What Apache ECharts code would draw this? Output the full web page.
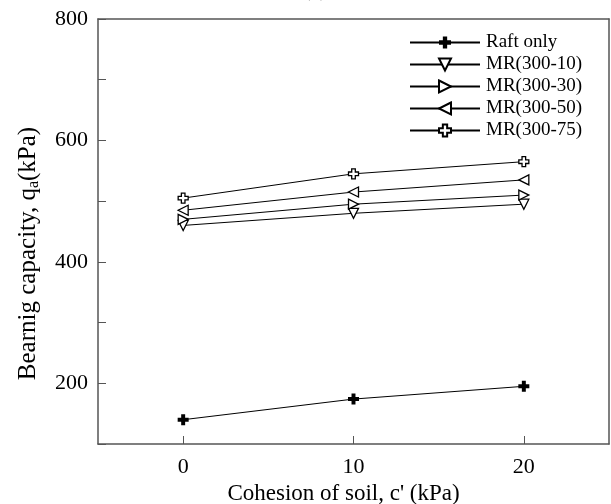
<!DOCTYPE html>
<html>
<head>
<meta charset="utf-8">
<script src="https://cdn.jsdelivr.net/npm/echarts@6/dist/echarts.min.js"></script>
<style>
  html, body { margin: 0; padding: 0; background: #fff; }
  #chart { width: 611px; height: 504px; }
</style>
</head>
<body>
<div id="chart"></div>
<script>
// Cohesion values (kPa) on the x axis
const cohesion = [0, 10, 20];
const xTicks = [0, 10, 20];
const yTicks = [200, 400, 600, 800];

// Bearing capacity (kPa) for each configuration
const raftOnly = [140, 174, 195];
const mr300_10 = [460, 480, 495];
const mr300_30 = [470, 495, 510];
const mr300_50 = [485, 515, 535];
const mr300_75 = [505, 545, 565];

const seriesNames = ['Raft only', 'MR(300-10)', 'MR(300-30)', 'MR(300-50)', 'MR(300-75)'];

const FONT = '"Liberation Serif", "Times New Roman", serif';
const AXIS_COLOR = '#555';

const PLUS = 'path://M3.2,0H6.8V3.2H10V6.8H6.8V10H3.2V6.8H0V3.2H3.2Z';
const TRI_DOWN = 'path://M0,0L10,0L5,9Z';
const TRI_RIGHT = 'path://M0,0L9,5L0,10Z';
const TRI_LEFT = 'path://M9,0L0,5L9,10Z';

function pairs(vals) {
  return cohesion.map((c, i) => [c, vals[i]]);
}

function makeSeries(name, vals, symbol, filled, size) {
  return {
    name: name,
    type: 'line',
    data: pairs(vals),
    symbol: symbol,
    symbolSize: size,
    showSymbol: true,
    lineStyle: { color: '#000', width: 1 },
    itemStyle: {
      color: filled ? '#000' : '#fff',
      borderColor: '#000',
      borderWidth: filled ? 0 : 1.3
    },
    emphasis: { disabled: true },
    animation: false,
    z: 3
  };
}

const chart = echarts.init(document.getElementById('chart'), null, { renderer: 'canvas' });

chart.setOption({
  backgroundColor: '#fff',
  animation: false,
  title: {
    text: '(a)',
    left: 298,
    top: -26,
    textStyle: { fontFamily: FONT, fontSize: 22, fontWeight: 'normal', color: '#000' }
  },
  legend: {
    orient: 'vertical',
    left: 404,
    top: 28,
    itemWidth: 70,
    itemHeight: 15,
    itemGap: 3,
    data: seriesNames,
    textStyle: { fontFamily: FONT, fontSize: 19, color: '#000', padding: [0, 0, 0, 1] },
    selectedMode: false
  },
  grid: { left: 98, right: 2, top: 19, bottom: 60, containLabel: false, outerBoundsMode: 'none' },
  xAxis: [{
    type: 'value',
    min: -5,
    max: 25,
    name: "Cohesion of soil, c' (kPa)",
    nameLocation: 'middle',
    nameGap: 38,
    nameTextStyle: { fontFamily: FONT, fontSize: 23, color: '#000', padding: [0, 20, 0, 0] },
    axisLine: { show: true, onZero: false, lineStyle: { color: AXIS_COLOR, width: 1.5 } },
    axisTick: { show: true, inside: true, length: 8, customValues: xTicks, lineStyle: { color: AXIS_COLOR, width: 1 } },
    axisLabel: { customValues: xTicks, margin: 12, fontFamily: FONT, fontSize: 22, color: '#000' },
    splitLine: { show: false }
  }, {
    type: 'value',
    position: 'top',
    min: -5,
    max: 25,
    axisLine: { show: true, onZero: false, lineStyle: { color: AXIS_COLOR, width: 1.5 } },
    axisTick: { show: false },
    axisLabel: { show: false },
    splitLine: { show: false }
  }],
  yAxis: [{
    type: 'value',
    min: 100,
    max: 800,
    interval: 100,
    name: 'Bearnig capacity, q{sub|a}(kPa)',
    nameLocation: 'middle',
    nameGap: 56,
    nameTextStyle: {
      fontFamily: FONT, fontSize: 25, color: '#000',
      padding: [0, 0, 0, -44],
      rich: { sub: { fontFamily: FONT, fontSize: 16, color: '#000', verticalAlign: 'bottom', padding: [11, 0, 0, 0] } }
    },
    axisLine: { show: true, onZero: false, lineStyle: { color: AXIS_COLOR, width: 1.5 } },
    axisTick: { show: true, inside: true, length: 8, lineStyle: { color: AXIS_COLOR, width: 1 } },
    axisLabel: {
      margin: 10,
      fontFamily: FONT, fontSize: 22, color: '#000',
      formatter: v => (yTicks.indexOf(v) >= 0 ? String(v) : '')
    },
    splitLine: { show: false }
  }, {
    type: 'value',
    position: 'right',
    min: 100,
    max: 800,
    axisLine: { show: true, onZero: false, lineStyle: { color: AXIS_COLOR, width: 1.5 } },
    axisTick: { show: false },
    axisLabel: { show: false },
    splitLine: { show: false }
  }],
  series: [
    makeSeries(seriesNames[0], raftOnly, PLUS, true, 11),
    makeSeries(seriesNames[1], mr300_10, TRI_DOWN, false, 10),
    makeSeries(seriesNames[2], mr300_30, TRI_RIGHT, false, 10),
    makeSeries(seriesNames[3], mr300_50, TRI_LEFT, false, 10),
    makeSeries(seriesNames[4], mr300_75, PLUS, false, 10)
  ]
});
</script>
</body>
</html>
